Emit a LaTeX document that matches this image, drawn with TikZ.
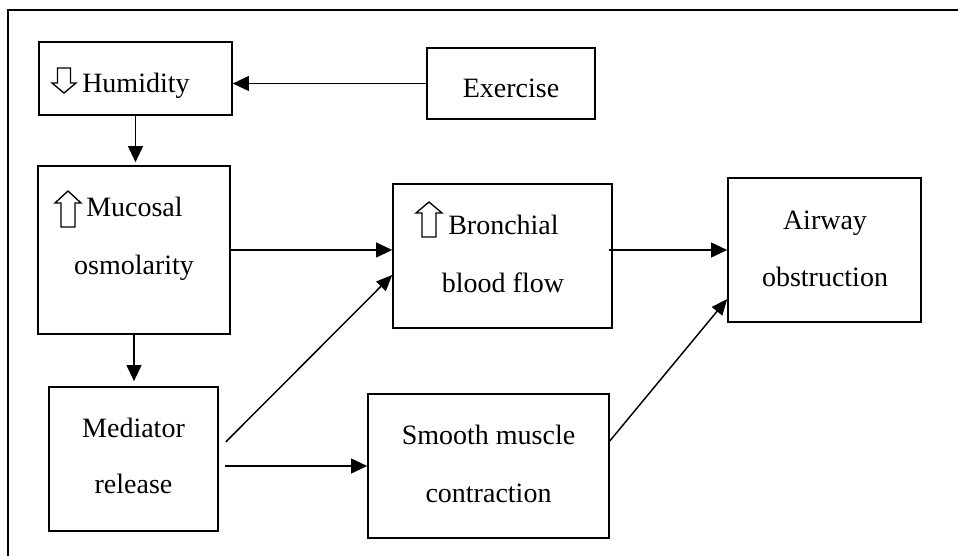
\documentclass[tikz,border=0pt]{standalone}
\usepackage{fontspec}
\setmainfont{Liberation Serif}
\usetikzlibrary{arrows.meta,fit}
\begin{document}
\begin{tikzpicture}[x=0.75pt,y=-0.75pt,
  boxnode/.style={draw,line width=1.15pt,inner sep=0pt},
  lbl/.style={inner sep=0pt,font=\fontsize{21}{25}\selectfont},
  arr/.style={line width=1.4pt,-{Triangle[length=12pt,width=11pt]}},
  arrthin/.style={line width=1.1pt,-{Triangle[length=12pt,width=10pt]}},
  glyph/.style={draw,line width=1pt,fill=white}
]
\useasboundingbox (0,0) rectangle (958,556);
% outer frame
\draw[line width=1.15pt] (8,556) -- (8,10) -- (958,10);

% boxes
\node[boxnode,fit={(39,42) (232,115)}] (hum) {};
\node[boxnode,fit={(427,48) (595,119)}] (ex) {};
\node[boxnode,fit={(38,166) (230,334)}] (muc) {};
\node[boxnode,fit={(393,184) (612,328)}] (bro) {};
\node[boxnode,fit={(728,178) (921,322)}] (air) {};
\node[boxnode,fit={(49,387) (218,531)}] (med) {};
\node[boxnode,fit={(368,394) (609,538)}] (smo) {};

% texts
\node[lbl,anchor=base west] (thum) at (82,93) {Humidity};
\node[lbl,anchor=base] (tex) at (511,98) {Exercise};
\node[lbl,anchor=base west] (tmuc1) at (86,217) {Mucosal};
\node[lbl,anchor=base] (tmuc2) at (134,275) {osmolarity};
\node[lbl,anchor=base west] (tbro1) at (448,235) {Bronchial};
\node[lbl,anchor=base] (tbro2) at (503,293) {blood flow};
\node[lbl,anchor=base] (tair1) at (825,230) {Airway};
\node[lbl,anchor=base] (tair2) at (825,287) {obstruction};
\node[lbl,anchor=base] (tmed1) at (133.5,437) {Mediator};
\node[lbl,anchor=base] (tmed2) at (133.5,493) {release};
\node[lbl,anchor=base] (tsmo1) at (488.5,444) {Smooth muscle};
\node[lbl,anchor=base] (tsmo2) at (488.5,502) {contraction};

% outlined arrow glyphs
\draw[glyph] (64,93) -- ++(-12,-10) -- ++(5.5,0) -- ++(0,-15) -- ++(13,0) -- ++(0,15) -- ++(5.5,0) -- cycle;
\draw[glyph] (68,191) -- ++(13,12) -- ++(-6,0) -- ++(0,24) -- ++(-14,0) -- ++(0,-24) -- ++(-6,0) -- cycle;
\draw[glyph] (429,202) -- ++(13,11) -- ++(-6,0) -- ++(0,24) -- ++(-14,0) -- ++(0,-24) -- ++(-6,0) -- cycle;

% connectors
\draw[arr] (ex.west) -- (hum.east |- ex.west);
\draw[arr,shorten >=2.25pt] (hum.south) -- (muc.north -| hum.south);
\draw[arr] (muc.east) -- (bro.west |- muc.east);
\draw[arr] ([xshift=-3pt]bro.east |- air.west) -- (air.west);
\draw[arr,shorten >=3.75pt] (muc.south) -- (med.north -| muc.south);
\draw[arr] ([xshift=4.5pt]med.east |- smo.west) -- (smo.west);
\draw[arrthin] ([xshift=5.25pt,yshift=12.75pt]med.east) -- ([yshift=-14.25pt]bro.west);
\draw[arrthin] ([yshift=18.75pt]smo.east) -- ([yshift=-36.75pt]air.west);
\end{tikzpicture}
\end{document}
